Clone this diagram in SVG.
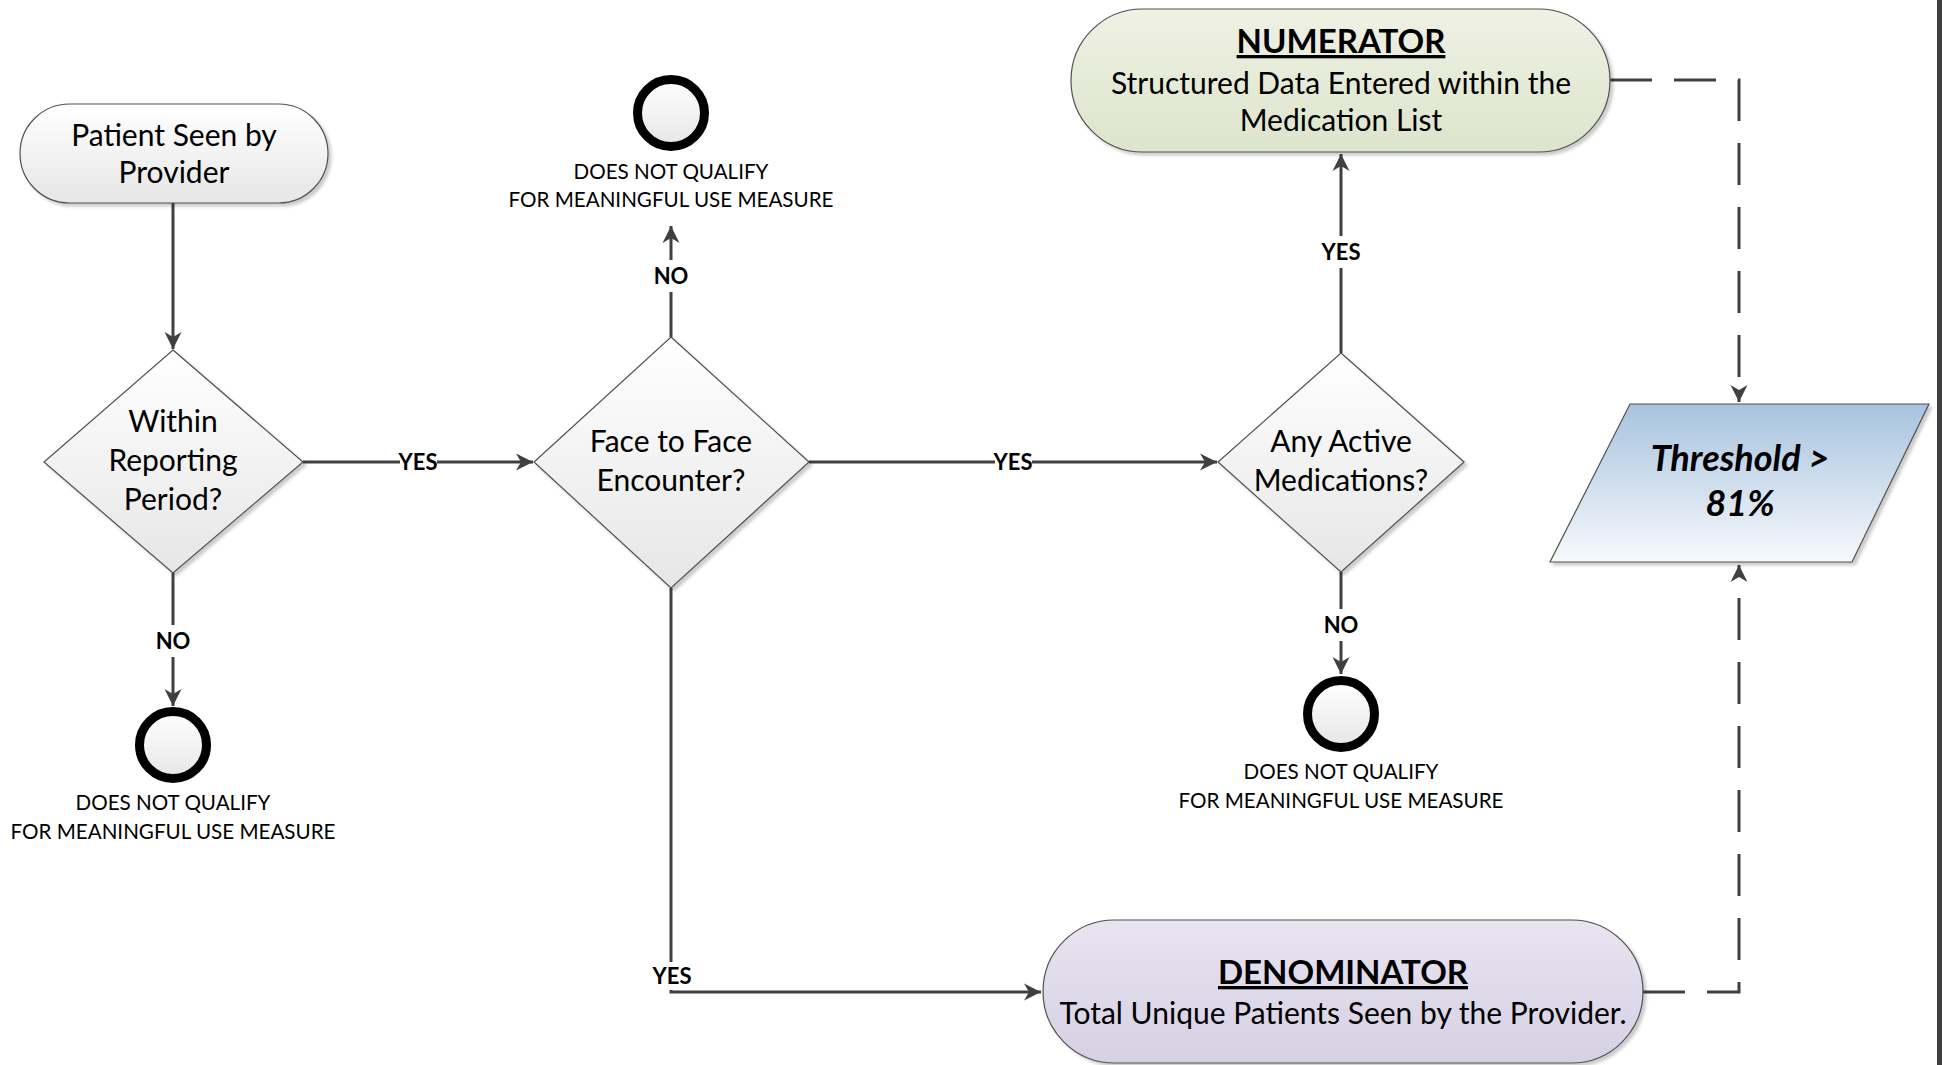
<svg xmlns="http://www.w3.org/2000/svg" width="1942" height="1065" viewBox="0 0 1942 1065">
<style>
.t{font-family:Lato,'Liberation Sans',sans-serif;fill:#000;text-anchor:middle}
.main{font-size:30px}
.small{font-size:20.6px}
.lbl{font-size:22px;font-weight:bold}
.head{font-size:33px;font-weight:bold;text-decoration:underline}
.th{font-size:36px;font-weight:bold;font-style:italic}
.shape{stroke:#505050;stroke-width:1.2}
.conn{fill:none;stroke:#404040;stroke-width:3}
.dash{fill:none;stroke:#404040;stroke-width:3;stroke-dasharray:42 22}
.end{stroke:#000;stroke-width:9;fill:url(#gGray)}
.bg{fill:#fff}
</style>
<defs>
<linearGradient id="gGray" x1="0" y1="0" x2="0" y2="1"><stop offset="0" stop-color="#ffffff"/><stop offset="1" stop-color="#e6e6e6"/></linearGradient>
<linearGradient id="gGreen" x1="0" y1="0" x2="0" y2="1"><stop offset="0" stop-color="#eff1e4"/><stop offset="1" stop-color="#dde4cc"/></linearGradient>
<linearGradient id="gPurple" x1="0" y1="0" x2="0" y2="1"><stop offset="0" stop-color="#e8e4f0"/><stop offset="1" stop-color="#d6d0e4"/></linearGradient>
<linearGradient id="gBlue" x1="0" y1="0" x2="0" y2="1"><stop offset="0" stop-color="#a8c3de"/><stop offset="1" stop-color="#f6f9fc"/></linearGradient>
<filter id="sh" x="-10%" y="-10%" width="125%" height="130%"><feDropShadow dx="3" dy="3" stdDeviation="1.5" flood-color="#000" flood-opacity="0.2"/></filter>
<marker id="arr" markerUnits="userSpaceOnUse" markerWidth="22" markerHeight="22" viewBox="-19 -11 22 22" refX="0" refY="0" orient="auto"><path d="M0,0 L-17,-8.5 L-12,0 L-17,8.5 Z" fill="#404040"/></marker>
</defs>
<rect x="0" y="0" width="1942" height="1065" fill="#fff"/>
<rect x="1937" y="0" width="5" height="1065" fill="#404040"/>

<g id="connectors">
<path class="conn" d="M173,203 V349" marker-end="url(#arr)"/>
<path class="conn" d="M303,462 H533" marker-end="url(#arr)"/>
<path class="conn" d="M173,573 V706" marker-end="url(#arr)"/>
<path class="conn" d="M671,337 V226" marker-end="url(#arr)"/>
<path class="conn" d="M809,462 H1217" marker-end="url(#arr)"/>
<path class="conn" d="M671,588 V992 H1041" marker-end="url(#arr)"/>
<path class="conn" d="M1341,353 V154" marker-end="url(#arr)"/>
<path class="conn" d="M1341,572 V674" marker-end="url(#arr)"/>
<path class="dash" d="M1610,80 H1739 V402" marker-end="url(#arr)"/>
<path class="dash" d="M1643,992 H1739 V565" marker-end="url(#arr)"/>
<rect class="bg" x="400" y="452" width="37" height="20"/>
<text class="t lbl" x="418" y="470">YES</text>
<rect class="bg" x="995" y="452" width="37" height="20"/>
<text class="t lbl" x="1013" y="470">YES</text>
<rect class="bg" x="1322" y="236" width="38" height="32"/>
<text class="t lbl" x="1341" y="260">YES</text>
<rect class="bg" x="653" y="962" width="38" height="28"/>
<text class="t lbl" x="672" y="984">YES</text>
<rect class="bg" x="156" y="625" width="34" height="32"/>
<text class="t lbl" x="173" y="649">NO</text>
<rect class="bg" x="654" y="260" width="34" height="32"/>
<text class="t lbl" x="671" y="284">NO</text>
<rect class="bg" x="1324" y="609" width="34" height="32"/>
<text class="t lbl" x="1341" y="633">NO</text>
</g>

<g id="start">
<rect x="20" y="104" width="308" height="99" rx="49.5" fill="url(#gGray)" class="shape" filter="url(#sh)"/>
<text class="t main" x="174" y="146">Patient Seen by</text>
<text class="t main" x="174" y="183">Provider</text>
</g>

<g id="decision-reporting">
<polygon points="173,350 303,462 173,573 44,462" fill="url(#gGray)" class="shape" filter="url(#sh)"/>
<text class="t main" x="173" y="432">Within</text>
<text class="t main" x="173" y="471">Reporting</text>
<text class="t main" x="173" y="510">Period?</text>
</g>

<g id="end-1">
<circle cx="173" cy="745" r="33.5" class="end"/>
<text class="t small" x="173" y="810">DOES NOT QUALIFY</text>
<text class="t small" x="173" y="839">FOR MEANINGFUL USE MEASURE</text>
</g>

<g id="decision-face">
<polygon points="671,337 809,462 671,588 534,462" fill="url(#gGray)" class="shape" filter="url(#sh)"/>
<text class="t main" x="671" y="452">Face to Face</text>
<text class="t main" x="671" y="491">Encounter?</text>
</g>

<g id="end-2">
<circle cx="671" cy="113" r="33.5" class="end"/>
<text class="t small" x="671" y="179">DOES NOT QUALIFY</text>
<text class="t small" x="671" y="207">FOR MEANINGFUL USE MEASURE</text>
</g>

<g id="decision-meds">
<polygon points="1341,353 1464,462 1341,572 1218,462" fill="url(#gGray)" class="shape" filter="url(#sh)"/>
<text class="t main" x="1341" y="452">Any Active</text>
<text class="t main" x="1341" y="491">Medications?</text>
</g>

<g id="end-3">
<circle cx="1341" cy="714" r="33.5" class="end"/>
<text class="t small" x="1341" y="779">DOES NOT QUALIFY</text>
<text class="t small" x="1341" y="808">FOR MEANINGFUL USE MEASURE</text>
</g>

<g id="numerator">
<rect x="1071" y="9" width="539" height="143" rx="71.5" fill="url(#gGreen)" class="shape" filter="url(#sh)"/>
<text class="t head" x="1341" y="53">NUMERATOR</text>
<text class="t main" x="1341" y="94">Structured Data Entered within the</text>
<text class="t main" x="1341" y="131">Medication List</text>
</g>

<g id="denominator">
<rect x="1043" y="920" width="600" height="143" rx="71.5" fill="url(#gPurple)" class="shape" filter="url(#sh)"/>
<text class="t head" x="1343" y="984">DENOMINATOR</text>
<text class="t main" x="1343" y="1024">Total Unique Patients Seen by the Provider.</text>
</g>

<g id="threshold">
<polygon points="1630,404 1929,404 1852,562 1550,562" fill="url(#gBlue)" class="shape" filter="url(#sh)"/>
<text class="t th" x="1740" y="471">Threshold &gt;</text>
<text class="t th" x="1740" y="516">81%</text>
</g>
</svg>
